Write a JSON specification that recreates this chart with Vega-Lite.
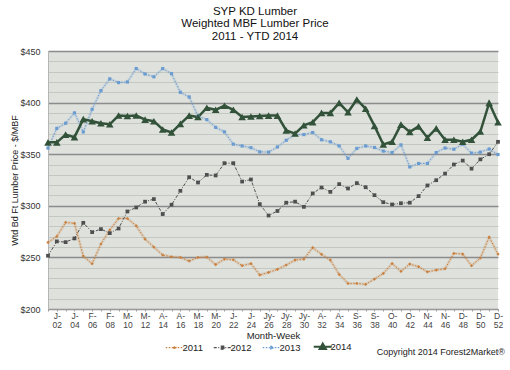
{
  "$schema": "https://vega.github.io/schema/vega-lite/v6.json",
  "autosize": {"type": "none"},
  "width": 450,
  "height": 258,
  "padding": {"left": 48, "top": 51, "right": 12, "bottom": 61},
  "background": "white",
  "config": {"font": "Liberation Sans", "view": {"fill": "#dee1dc", "stroke": null}},
  "title": {
    "text": ["SYP KD Lumber", "Weighted MBF Lumber Price", "2011 - YTD 2014"],
    "fontSize": 11.5, "fontWeight": "normal", "color": "#111", "lineHeight": 12.5,
    "anchor": "middle", "frame": "group", "dx": -18, "offset": 5
  },
  "datasets": {
    "lumber": [
      {"week": 1, "2011": 264.5, "2012": 251.6, "2013": 356, "2014": 361.5},
      {"week": 2, "2011": 270.3, "2012": 265.5, "2013": 375, "2014": 361.5},
      {"week": 3, "2011": 283.9, "2012": 264.8, "2013": 380, "2014": 369},
      {"week": 4, "2011": 283, "2012": 268.4, "2013": 390, "2014": 366.5},
      {"week": 5, "2011": 251.3, "2012": 283.5, "2013": 371.6, "2014": 384},
      {"week": 6, "2011": 243.9, "2012": 274.5, "2013": 393.5, "2014": 382},
      {"week": 7, "2011": 263, "2012": 277.4, "2013": 411.6, "2014": 380},
      {"week": 8, "2011": 276.5, "2012": 273.5, "2013": 423, "2014": 379},
      {"week": 9, "2011": 287.7, "2012": 278, "2013": 419.4, "2014": 387.5},
      {"week": 10, "2011": 287.7, "2012": 294.5, "2013": 420, "2014": 387},
      {"week": 11, "2011": 280.6, "2012": 298.4, "2013": 433, "2014": 387.5},
      {"week": 12, "2011": 267.7, "2012": 304, "2013": 427.7, "2014": 383.5},
      {"week": 13, "2011": 260, "2012": 306.5, "2013": 425, "2014": 382},
      {"week": 14, "2011": 252.3, "2012": 292, "2013": 433, "2014": 374},
      {"week": 15, "2011": 250.6, "2012": 301, "2013": 428, "2014": 371},
      {"week": 16, "2011": 250, "2012": 314.5, "2013": 410, "2014": 379.4},
      {"week": 17, "2011": 246.5, "2012": 327.7, "2013": 405.5, "2014": 387.4},
      {"week": 18, "2011": 250, "2012": 322.6, "2013": 386.8, "2014": 386},
      {"week": 19, "2011": 250.3, "2012": 330, "2013": 383.5, "2014": 395},
      {"week": 20, "2011": 243, "2012": 329.4, "2013": 376, "2014": 393},
      {"week": 21, "2011": 248.4, "2012": 341.3, "2013": 371.6, "2014": 397},
      {"week": 22, "2011": 247.7, "2012": 341.3, "2013": 359.7, "2014": 393},
      {"week": 23, "2011": 242, "2012": 323.5, "2013": 358, "2014": 386},
      {"week": 24, "2011": 244, "2012": 325.5, "2013": 356.3, "2014": 386.6},
      {"week": 25, "2011": 233, "2012": 301.6, "2013": 352.3, "2014": 387},
      {"week": 26, "2011": 235.5, "2012": 290.6, "2013": 352, "2014": 387.4},
      {"week": 27, "2011": 238.4, "2012": 295, "2013": 357, "2014": 387.4},
      {"week": 28, "2011": 242.6, "2012": 303, "2013": 363.5, "2014": 373},
      {"week": 29, "2011": 247.4, "2012": 304, "2013": 369, "2014": 370},
      {"week": 30, "2011": 248.4, "2012": 299, "2013": 369, "2014": 378},
      {"week": 31, "2011": 259.4, "2012": 312, "2013": 371, "2014": 381},
      {"week": 32, "2011": 253, "2012": 317.7, "2013": 364, "2014": 390},
      {"week": 33, "2011": 247.4, "2012": 313.5, "2013": 362, "2014": 390},
      {"week": 34, "2011": 233.5, "2012": 321, "2013": 358, "2014": 399.7},
      {"week": 35, "2011": 224.8, "2012": 316.8, "2013": 346, "2014": 390.6},
      {"week": 36, "2011": 224.8, "2012": 322, "2013": 355.6, "2014": 403},
      {"week": 37, "2011": 223.9, "2012": 318, "2013": 358, "2014": 394},
      {"week": 38, "2011": 229, "2012": 310.3, "2013": 356.5, "2014": 377.4},
      {"week": 39, "2011": 234.5, "2012": 303.5, "2013": 353, "2014": 359.4},
      {"week": 40, "2011": 244, "2012": 301.3, "2013": 351.6, "2014": 362},
      {"week": 41, "2011": 236.5, "2012": 302.5, "2013": 359, "2014": 378.7},
      {"week": 42, "2011": 243.5, "2012": 303, "2013": 337.7, "2014": 371.6},
      {"week": 43, "2011": 241, "2012": 309.4, "2013": 341, "2014": 377},
      {"week": 44, "2011": 236, "2012": 319.7, "2013": 341, "2014": 366},
      {"week": 45, "2011": 237.7, "2012": 324.8, "2013": 351.6, "2014": 375},
      {"week": 46, "2011": 239, "2012": 331.2, "2013": 356, "2014": 364},
      {"week": 47, "2011": 253.9, "2012": 340, "2013": 354.8, "2014": 364},
      {"week": 48, "2011": 253.2, "2012": 343.8, "2013": 359.7, "2014": 362},
      {"week": 49, "2011": 242, "2012": 336, "2013": 351, "2014": 364},
      {"week": 50, "2011": 249.4, "2012": 345, "2013": 352, "2014": 372},
      {"week": 51, "2011": 269.7, "2012": 350, "2013": 355, "2014": 399.7},
      {"week": 52, "2011": 253.2, "2012": 362, "2013": 349.7, "2014": 381}
    ]
  },
  "encoding": {
    "x": {
      "field": "week", "type": "quantitative",
      "scale": {"domain": [1, 52], "nice": false, "zero": false},
      "axis": {
        "values": [1,2,3,4,5,6,7,8,9,10,11,12,13,14,15,16,17,18,19,20,21,22,23,24,25,26,27,28,29,30,31,32,33,34,35,36,37,38,39,40,41,42,43,44,45,46,47,48,49,50,51,52],
        "labelExpr": "datum.value % 2 === 0 ? [['J-','J-','F-','F-','M-','M-','A-','A-','M-','M-','J-','J-','Jy-','Jy-','Jy-','A-','A-','S-','S-','O-','O-','N-','N-','D-','D-','D-'][datum.value/2-1], (datum.value < 10 ? '0' : '') + datum.value] : ''",
        "labelOverlap": false, "labelFlush": false,
        "labelFontSize": 8.5, "labelColor": "#444", "labelLineHeight": 9.5, "labelPadding": 0,
        "labelAlign": "center", "labelBaseline": "top",
        "tickSize": 2, "tickColor": "#9a9a9a", "domainColor": "#9a9a9a", "grid": false,
        "title": "Month-Week", "titleFontSize": 9.5, "titleFontWeight": "normal", "titleColor": "#222", "titlePadding": 1
      }
    },
    "y": {
      "field": "price", "type": "quantitative",
      "scale": {"domain": [200, 450], "nice": false, "zero": false},
      "axis": {
        "values": [200,210,220,230,240,250,260,270,280,290,300,310,320,330,340,350,360,370,380,390,400,410,420,430,440,450],
        "labelExpr": "datum.value % 50 === 0 ? '$' + datum.value : ''",
        "labelOverlap": false, "labelFontSize": 9, "labelColor": "#333", "labelPadding": 8, "ticks": false,
        "gridColor": {"condition": {"test": "datum.value % 50 === 0", "value": "#8c8c8c"}, "value": "#c4c8c2"},
        "gridWidth": {"condition": {"test": "datum.value % 50 === 0", "value": 1.5}, "value": 1},
        "domainColor": "#b5b5b5",
        "title": "Wtd Bd Ft Lumber Price - $/MBF", "titleFontSize": 9, "titleFontWeight": "normal", "titleColor": "#222", "titlePadding": 0
      }
    }
  },
  "layer": [
    {
      "data": {"name": "lumber"},
      "transform": [{"fold": ["2011", "2012", "2013", "2014"], "as": ["year", "price"]}, {"filter": "datum.year == '2011'"}],
      "mark": {"type": "line", "strokeWidth": 3, "opacity": 0.18, "color": "#c97f3d", "strokeCap": "round", "strokeJoin": "round"},
      "encoding": {}
    },
    {
      "data": {"name": "lumber"},
      "transform": [{"fold": ["2011", "2012", "2013", "2014"], "as": ["year", "price"]}, {"filter": "datum.year == '2013'"}],
      "mark": {"type": "line", "strokeWidth": 3, "opacity": 0.15, "color": "#6a9bd1", "strokeCap": "round", "strokeJoin": "round"},
      "encoding": {}
    },
    {
      "data": {"name": "lumber"},
      "transform": [{"fold": ["2011", "2012", "2013", "2014"], "as": ["year", "price"]}, {"filter": "datum.year == '2011'"}],
      "mark": {"type": "line", "strokeWidth": 1, "strokeDash": [1.5, 1.5]},
      "encoding": {
        "color": {
          "field": "year", "type": "nominal",
          "scale": {"domain": ["2011", "2012", "2013", "2014"], "range": ["#c97f3d", "#4f4f4f", "#6a9bd1", "#32523a"]},
          "legend": {
            "title": null, "orient": "none", "legendX": 122, "legendY": 291, "direction": "horizontal",
            "padding": 0, "columnPadding": 8, "symbolSize": 324, "labelOffset": 3,
            "labelFontSize": 9.5, "labelColor": "#222",
            "encode": {
              "symbols": {
                "update": {
                  "shape": {"signal": "datum.value == '2011' ? 'M-1,0H1M-0.15,0L0,-0.15L0.15,0L0,0.15Z' : datum.value == '2012' ? 'M-1,0H1M-0.17,-0.17H0.17V0.17H-0.17Z' : datum.value == '2013' ? 'M-1,0H1M-0.13,-0.13H0.13V0.13H-0.13Z' : 'M-1,0H1M-0.35,0.25L0,-0.35L0.35,0.25Z'"},
                  "fill": {"signal": "scale('color', datum.value)"},
                  "strokeWidth": {"signal": "datum.value == '2014' ? 2 : 1.2"},
                  "strokeDash": {"signal": "datum.value == '2014' ? [1, 0] : datum.value == '2012' ? [3, 1.5, 1, 1.5] : [1.5, 1.5]"},
                  "opacity": {"value": 1}
                }
              }
            }
          }
        }
      }
    },
    {
      "data": {"name": "lumber"},
      "transform": [{"fold": ["2011", "2012", "2013", "2014"], "as": ["year", "price"]}, {"filter": "datum.year == '2012'"}],
      "mark": {"type": "line", "strokeWidth": 1, "strokeDash": [3, 1.5, 1, 1.5]},
      "encoding": {"color": {"field": "year", "type": "nominal"}}
    },
    {
      "data": {"name": "lumber"},
      "transform": [{"fold": ["2011", "2012", "2013", "2014"], "as": ["year", "price"]}, {"filter": "datum.year == '2013'"}],
      "mark": {"type": "line", "strokeWidth": 1, "strokeDash": [1.5, 1.5]},
      "encoding": {"color": {"field": "year", "type": "nominal"}}
    },
    {
      "data": {"name": "lumber"},
      "transform": [{"fold": ["2011", "2012", "2013", "2014"], "as": ["year", "price"]}, {"filter": "datum.year == '2014'"}],
      "mark": {"type": "line", "strokeWidth": 2.5},
      "encoding": {"color": {"field": "year", "type": "nominal"}}
    },
    {
      "data": {"name": "lumber"},
      "transform": [{"fold": ["2011", "2012", "2013", "2014"], "as": ["year", "price"]}, {"filter": "datum.year == '2011'"}],
      "mark": {"type": "point", "filled": true, "opacity": 1, "shape": "diamond", "size": 10, "color": "#c97f3d"}
    },
    {
      "data": {"name": "lumber"},
      "transform": [{"fold": ["2011", "2012", "2013", "2014"], "as": ["year", "price"]}, {"filter": "datum.year == '2012'"}],
      "mark": {"type": "point", "filled": true, "opacity": 1, "shape": "square", "size": 14, "color": "#4f4f4f"}
    },
    {
      "data": {"name": "lumber"},
      "transform": [{"fold": ["2011", "2012", "2013", "2014"], "as": ["year", "price"]}, {"filter": "datum.year == '2013'"}],
      "mark": {"type": "point", "filled": true, "opacity": 1, "shape": "square", "size": 10, "color": "#6a9bd1"}
    },
    {
      "data": {"name": "lumber"},
      "transform": [{"fold": ["2011", "2012", "2013", "2014"], "as": ["year", "price"]}, {"filter": "datum.year == '2014'"}],
      "mark": {"type": "point", "filled": true, "opacity": 1, "shape": "triangle-up", "size": 58, "color": "#32523a"}
    },
    {
      "data": {"values": [{"note": "Copyright 2014 Forest2Market®", "week": 52, "price": 200}]},
      "mark": {"type": "text", "align": "right", "baseline": "middle", "dx": 7, "dy": 43, "fontSize": 9, "color": "#222"},
      "encoding": {
        "text": {"field": "note", "type": "nominal"}
      }
    }
  ]
}
